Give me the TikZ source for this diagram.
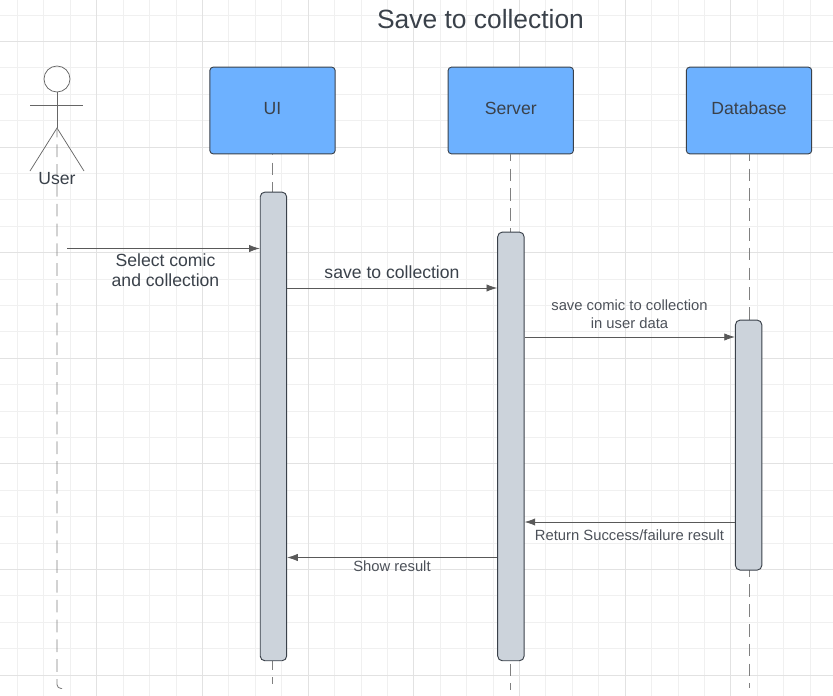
\documentclass[tikz,border=0pt]{standalone}
\usepackage{fontspec}
\setmainfont{Liberation Sans}
\usetikzlibrary{arrows.meta, positioning}

\definecolor{gridminor}{HTML}{F0F0F0}
\definecolor{gridmajor}{HTML}{E2E2E2}
\definecolor{boxblue}{HTML}{6DB1FF}
\definecolor{barfill}{HTML}{CCD3DB}
\definecolor{edge}{HTML}{3A414A}
\definecolor{ink}{HTML}{3A414A}
\definecolor{labelink}{HTML}{4C5159}

\begin{document}
\begin{tikzpicture}[
  x=0.75pt, y=-0.75pt,
  every node/.style={align=center, text=ink},
  block/.style={draw=edge, fill=boxblue, line width=0.7pt, rounded corners=2.5pt,
                minimum width=94pt, minimum height=65pt, inner sep=0pt,
                text height=9pt, text depth=3pt, font=\fontsize{13.2pt}{15pt}\selectfont},
  bar/.style={draw=edge, fill=barfill, line width=0.7pt, rounded corners=3.5pt,
              minimum width=19.8pt, inner sep=0pt},
  lifeline/.style={draw=black!50, line width=0.65pt, dash pattern=on 9.5pt off 5.35pt},
  figure/.style={draw=black!60, line width=0.55pt},
  msg/.style={draw=black!65, line width=0.6pt, -{Latex[length=8pt, width=5.5pt]}},
  msglabel/.style={text=labelink, inner sep=0pt},
]
\useasboundingbox (0,0) rectangle (833,696);

% background grid
\foreach \k in {-1,...,6} {
  \foreach \m in {1,2,3} {
    \draw [gridminor, line width=0.7pt] ({96.8+105.68*\k+26.42*\m},0) -- ({96.8+105.68*\k+26.42*\m},696);
    \draw [gridminor, line width=0.7pt] (0,{41.5+105.6*\k+26.4*\m}) -- (833,{41.5+105.6*\k+26.4*\m});
  }
}
\foreach \k in {0,...,6} {
  \draw [gridmajor, line width=0.8pt] ({96.8+105.68*\k},0) -- ({96.8+105.68*\k},696);
  \draw [gridmajor, line width=0.8pt] (0,{41.5+105.6*\k}) -- (833,{41.5+105.6*\k});
}

\node (title) [font=\fontsize{19.8pt}{24pt}\selectfont, inner sep=0pt] at (480.5,19) {Save to collection};

% participants
\node [block] (ui) at (272.5,110.5) {UI};
\node [block] (server) [right=84pt of ui] {Server};
\node [block] (database) [right=84pt of server] {Database};

% the user
\node (user_head) [circle, figure, minimum size=19.5pt, inner sep=0pt] at (57,79) {};
\coordinate (user_hip) at (57,128);
\coordinate (user_arm_l) at (30,105);
\coordinate (user_arm_r) at (83,105);
\coordinate (user_leg_l) at (30,171);
\coordinate (user_leg_r) at (84,171);
\coordinate (user_end) at (67,688.5);

\draw [figure] (user_head.south) -- (user_hip);
\draw [figure] (user_arm_l) -- (user_arm_r);
\draw [figure] (user_leg_l) -- (user_hip) -- (user_leg_r);

% lifelines
\coordinate (ui_end) at (0,684);
\coordinate (server_end) at (0,690);
\coordinate (database_end) at (0,688);
\draw [lifeline, dash phase=2.55pt, rounded corners=3pt] (user_hip) |- (user_end);
\draw [lifeline, dash phase=8.7pt] (ui.south) -- (ui.south |- ui_end);
\draw [lifeline, dash phase=4.2pt] (server.south) -- (server.south |- server_end);
\draw [lifeline, dash phase=4.2pt] (database.south) -- (database.south |- database_end);

\node (user_label) [font=\fontsize{13.2pt}{15pt}\selectfont, inner sep=0pt] at (57,179) {User};

% activation bars
\node [bar, minimum height=351.5pt, below=28pt of ui, xshift=0.7pt] (ui_bar) {};
\node [bar, minimum height=321.5pt, below=58pt of server, xshift=0.1pt] (server_bar) {};
\node [bar, minimum height=187.5pt, below=124pt of database, xshift=-0.3pt] (database_bar) {};

% messages
\coordinate (y_select) at (0,248.5);
\coordinate (y_save) at (0,288);
\coordinate (y_store) at (0,337);
\coordinate (y_return) at (0,522);
\coordinate (y_show) at (0,557.5);
\coordinate (user_msg) at (67,248.5);

\draw [msg] (user_msg) -- (ui_bar.west |- y_select);
\draw [msg] (ui_bar.east |- y_save) -- (server_bar.west |- y_save);
\draw [msg] (server_bar.east |- y_store) -- (database_bar.west |- y_store);
\draw [msg] (database_bar.west |- y_return) -- (server_bar.east |- y_return);
\draw [msg] (server_bar.west |- y_show) -- (ui_bar.east |- y_show);

\node (select_label) [font=\fontsize{13.2pt}{15.2pt}\selectfont, msglabel, text=ink] at (165.5,270.5) {Select comic \\ and collection};
\node (save_label) [font=\fontsize{13.2pt}{15pt}\selectfont, msglabel, text=ink] at (392,272.5) {save to collection};
\node (store_label) [font=\fontsize{11.1pt}{13.5pt}\selectfont, msglabel] at (629.5,314.5) {save comic to collection \\ in user data};
\node (return_label) [font=\fontsize{11.1pt}{13pt}\selectfont, msglabel] at (629.5,535) {Return Success/failure result};
\node (show_label) [font=\fontsize{11.1pt}{13pt}\selectfont, msglabel] at (392,566.5) {Show result};

\end{tikzpicture}
\end{document}
